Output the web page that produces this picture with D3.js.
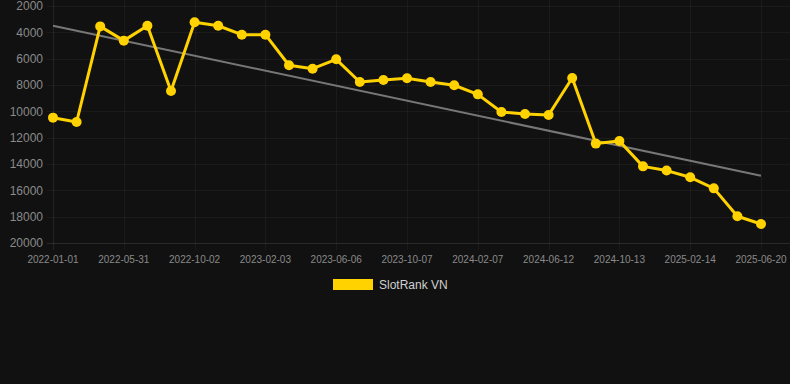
<!DOCTYPE html>
<html>
<head>
<meta charset="utf-8">
<script src="https://cdn.jsdelivr.net/npm/d3@7"></script>
<style>
  html, body { margin: 0; padding: 0; background: #111111; }
  .main { width: 790px; height: 384px; }
  text { font-family: Arial, "Liberation Sans", sans-serif; }
</style>
</head>
<body>
<div class="main"></div>
<script>
const w = 790;
const h = 384;

// data
const dates = [
  '2022-01-01', '2022-02-20', '2022-04-11', '2022-05-31', '2022-07-11', '2022-08-22',
  '2022-10-02', '2022-11-12', '2022-12-24', '2023-02-03', '2023-03-16', '2023-04-26',
  '2023-06-06', '2023-07-17', '2023-08-27', '2023-10-07', '2023-11-17', '2023-12-28',
  '2024-02-07', '2024-03-19', '2024-05-01', '2024-06-12', '2024-07-23', '2024-09-02',
  '2024-10-13', '2024-11-23', '2025-01-04', '2025-02-14', '2025-03-27', '2025-05-09',
  '2025-06-20'
];
const ranks = [
  10480, 10810, 3550, 4630, 3500, 8450,
  3240, 3500, 4180, 4180, 6500, 6760,
  6050, 7770, 7620, 7490, 7770, 8020,
  8710, 10050, 10200, 10280, 7470, 12450,
  12250, 14180, 14500, 15010, 15850, 17970,
  18560
];
const trend = [3500, 14890];
const yTicks = [2000, 4000, 6000, 8000, 10000, 12000, 14000, 16000, 18000, 20000];
const seriesName = 'SlotRank VN';

const svg = d3.select('.main').append('svg').attr('width', w).attr('height', h);

const x = d3.scalePoint().domain(dates).range([53, 761]);
const y = d3.scaleLinear().domain([2000, 20000]).range([6, 243]);

const gridColor = 'rgba(255,255,255,0.045)';

// horizontal grid
svg.append('g')
  .selectAll('line')
  .data(yTicks)
  .enter()
  .append('line')
  .attr('x1', 47)
  .attr('x2', w)
  .attr('y1', (d) => Math.round(y(d)) + 0.5)
  .attr('y2', (d) => Math.round(y(d)) + 0.5)
  .attr('stroke', (d) => (d === 20000 ? 'rgba(255,255,255,0.1)' : gridColor));

// vertical grid, every third category
const shown = dates.filter((d, i) => i % 3 === 0);
svg.append('g')
  .selectAll('line')
  .data(shown)
  .enter()
  .append('line')
  .attr('x1', (d) => Math.round(x(d)) + 0.5)
  .attr('x2', (d) => Math.round(x(d)) + 0.5)
  .attr('y1', 0)
  .attr('y2', 250)
  .attr('stroke', (d, i) => (i === 0 ? 'rgba(255,255,255,0.08)' : gridColor));

// y labels
svg.append('g')
  .selectAll('text')
  .data(yTicks)
  .enter()
  .append('text')
  .attr('x', 43)
  .attr('y', (d) => y(d))
  .attr('dy', '0.35em')
  .attr('text-anchor', 'end')
  .attr('font-size', 12)
  .attr('fill', '#8a8a8a')
  .text((d) => d);

// x labels
svg.append('g')
  .selectAll('text')
  .data(shown)
  .enter()
  .append('text')
  .attr('x', (d) => x(d))
  .attr('y', 259)
  .attr('dy', '0.35em')
  .attr('text-anchor', 'middle')
  .attr('font-size', 10)
  .attr('fill', '#8a8a8a')
  .text((d) => d);

// trend line
svg.append('line')
  .attr('x1', x(dates[0]))
  .attr('y1', y(trend[0]))
  .attr('x2', x(dates[dates.length - 1]))
  .attr('y2', y(trend[1]))
  .attr('stroke', '#777777')
  .attr('stroke-width', 2);

const gold = '#ffd200';

const line = d3.line()
  .x((d, i) => x(dates[i]))
  .y((d) => y(d));

svg.append('path')
  .datum(ranks)
  .attr('fill', 'none')
  .attr('stroke', gold)
  .attr('stroke-width', 3)
  .attr('stroke-linejoin', 'round')
  .attr('d', line);

svg.append('g')
  .selectAll('circle')
  .data(ranks)
  .enter()
  .append('circle')
  .attr('cx', (d, i) => x(dates[i]))
  .attr('cy', (d) => y(d))
  .attr('r', 5)
  .attr('fill', gold);

// legend
svg.append('rect')
  .attr('x', 333)
  .attr('y', 279)
  .attr('width', 40)
  .attr('height', 11)
  .attr('fill', gold);

svg.append('text')
  .attr('x', 379)
  .attr('y', 285)
  .attr('dy', '0.35em')
  .attr('font-size', 12)
  .attr('fill', '#d0d0d0')
  .text(seriesName);
</script>
</body>
</html>
